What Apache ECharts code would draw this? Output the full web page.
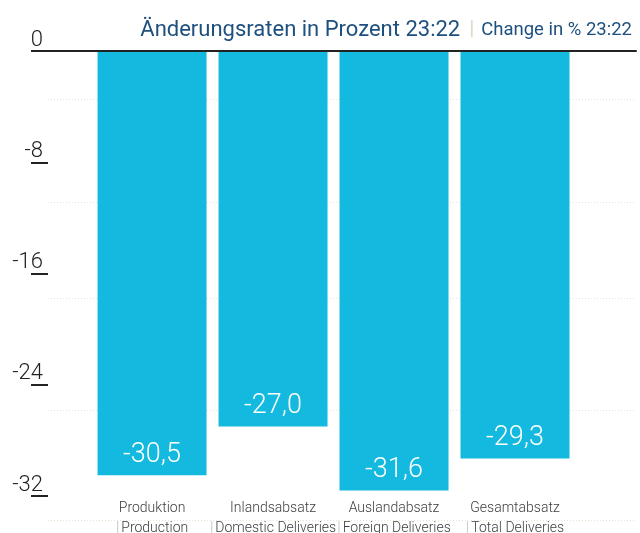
<!DOCTYPE html>
<html><head><meta charset="utf-8">
<script src="https://cdn.jsdelivr.net/npm/echarts@6/dist/echarts.min.js"></script>
<style>html,body{margin:0;padding:0;background:#fff}#c{width:640px;height:533px}</style>
</head><body><div id="c"></div>
<script>
const categoriesDe = ['Produktion', 'Inlandsabsatz', 'Auslandabsatz', 'Gesamtabsatz'];
const categoriesEn = ['Production', 'Domestic Deliveries', 'Foreign Deliveries', 'Total Deliveries'];
const changeValues = [-30.5, -27.0, -31.6, -29.3];
const yTickValues = [0, -8, -16, -24, -32];
const gridLineValues = [-3.5, -10.9, -17.8, -25.8, -33.7];
const titleDe = 'Änderungsraten in Prozent 23:22';
const titleEn = 'Change in % 23:22';

const FONT = 'Roboto';
const chart = echarts.init(document.getElementById('c'), null, {renderer: 'canvas'});
const positions = categoriesDe.map((_, i) => i);

chart.setOption({
  animation: false,
  backgroundColor: '#ffffff',
  title: {
    text: '{a|' + titleDe + '}{s| | }{b|' + titleEn + '}',
    right: 3,
    top: 14,
    textStyle: {
      rich: {
        a: {fontFamily: FONT, fontSize: 22, color: '#1d4f7f', fontWeight: 400},
        s: {fontFamily: FONT, fontSize: 20, color: '#dcdccc', padding: [0, 2, 0, 4]},
        b: {fontFamily: FONT, fontSize: 18.5, color: '#1d4f7f', fontWeight: 400}
      }
    }
  },
  grid: {left: 48, right: 4, top: 51, bottom: 9, containLabel: false, outerBoundsMode: 'none'},
  xAxis: [{
    type: 'value', position: 'top', min: -0.86, max: 4.0, z: 10,
    axisLine: {show: true, onZero: false, lineStyle: {color: '#222', width: 2}},
    axisTick: {show: false}, axisLabel: {show: false}, splitLine: {show: false}
  }, {
    type: 'value', position: 'bottom', min: -0.86, max: 4.0, offset: -30,
    axisLine: {show: false, onZero: false}, axisTick: {show: false}, splitLine: {show: false},
    axisLabel: {
      show: true, customValues: positions, margin: 4,
      formatter: v => '{t|' + categoriesDe[v] + '}\n{s||}{t|' + categoriesEn[v] + '}',
      rich: {
        t: {fontFamily: FONT, fontSize: 14, color: '#404040', lineHeight: 20, fontWeight: 300},
        s: {fontFamily: FONT, fontSize: 14, color: '#cccccc', lineHeight: 20, padding: [0, 2, 0, 0]}
      }
    }
  }],
  yAxis: {
    type: 'value', min: -34, max: 0, z: 10,
    axisLine: {show: false, onZero: false},
    splitLine: {show: false},
    axisTick: {show: true, customValues: yTickValues, length: 17, lineStyle: {color: '#222', width: 2}},
    axisLabel: {
      customValues: yTickValues, margin: 5, verticalAlign: 'bottom',
      fontFamily: FONT, fontSize: 22, fontWeight: 300, color: '#222',
      formatter: v => String(v)
    }
  },
  series: [{
    type: 'line',
    xAxisIndex: 0,
    data: [],
    z: 1,
    markLine: {
      silent: true, symbol: 'none', label: {show: false}, z: 1,
      lineStyle: {color: '#e4e4d2', type: [1, 2], width: 1},
      data: gridLineValues.map(v => ({yAxis: v}))
    }
  }, {
    type: 'bar',
    xAxisIndex: 0,
    barWidth: 109,
    data: changeValues.map((v, i) => [positions[i], v]),
    itemStyle: {color: '#13b9de'},
    label: {
      show: true, position: 'insideBottom', distance: 7,
      fontFamily: FONT, fontSize: 27, fontWeight: 300, color: '#ffffff',
      formatter: p => p.value[1].toFixed(1).replace('.', ',')
    },
    z: 3
  }]
});
</script></body></html>
